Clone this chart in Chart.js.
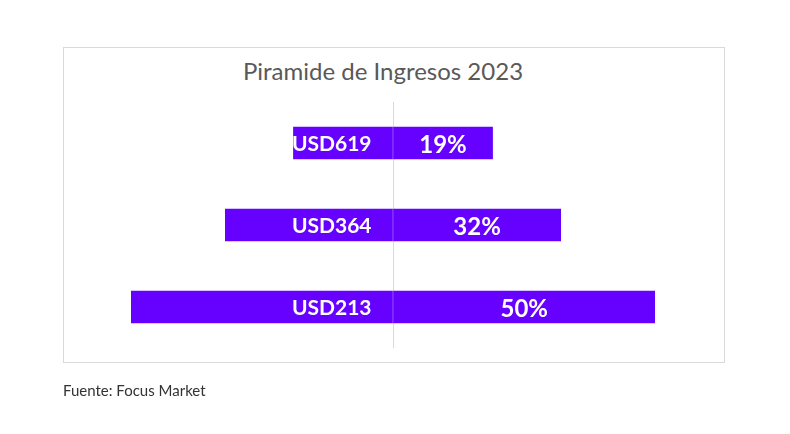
<!DOCTYPE html>
<html>
<head>
<meta charset="utf-8">
<script src="https://cdn.jsdelivr.net/npm/chart.js@4/dist/chart.umd.min.js"></script>
<style>
  html, body { margin: 0; padding: 0; background: #fff; }
  #wrap { position: relative; width: 790px; height: 434px; }
  #frame { position: absolute; left: 63px; top: 47px; width: 660px; height: 314px; border: 1px solid #d9d9d9; }
  #title { position: absolute; left: 0; width: 766px; top: 56px; text-align: center; font-family: Lato, sans-serif; font-size: 24px; color: #595959; }
  #source { position: absolute; left: 63px; top: 381px; font-family: Lato, sans-serif; font-size: 15px; color: #333; }
  canvas { position: absolute; left: 0; top: 0; }
</style>
</head>
<body>
<div id="wrap">
  <div id="frame"></div>
  <div id="title">Piramide de Ingresos 2023</div>
  <canvas id="chart" width="790" height="434"></canvas>
  <div id="source">Fuente: Focus Market</div>
</div>
<script>
// income brackets (top to bottom) and share of population
const categories = ['USD619', 'USD364', 'USD213'];
const shares = [19, 32, 50];
const shareLabels = ['19%', '32%', '50%'];

const barColor = '#6600ff';

// left half mirrors the right half
const leftValues = shares.map(v => -v);

const barLabels = {
    id: 'barLabels',
    afterDatasetsDraw(chart) {
        const ctx = chart.ctx;
        ctx.save();
        ctx.fillStyle = '#fff';
        ctx.textBaseline = 'middle';
        chart.getDatasetMeta(0).data.forEach((bar, i) => {
            ctx.font = 'bold 21px Lato, sans-serif';
            ctx.textAlign = 'right';
            ctx.fillText(categories[i], bar.base - 21, bar.y + 1);
        });
        chart.getDatasetMeta(1).data.forEach((bar, i) => {
            ctx.font = 'bold 24px Lato, sans-serif';
            ctx.textAlign = 'center';
            ctx.fillText(shareLabels[i], (bar.x + bar.base) / 2, bar.y + 2);
        });
        ctx.restore();
    }
};

new Chart(document.getElementById('chart'), {
    type: 'bar',
    data: {
        labels: categories,
        datasets: [
            { data: leftValues, backgroundColor: barColor, barThickness: 32 },
            { data: shares, backgroundColor: barColor, barThickness: 32 }
        ]
    },
    options: {
        indexAxis: 'y',
        responsive: false,
        animation: false,
        layout: { padding: { left: 131, right: 135, top: 102, bottom: 86 } },
        plugins: { legend: { display: false }, tooltip: { enabled: false }, title: { display: false } },
        scales: {
            x: {
                stacked: true,
                min: -50,
                max: 50,
                z: 1,
                ticks: { display: false },
                border: { display: false },
                grid: {
                    drawTicks: false,
                    color: c => c.tick && c.tick.value === 0 ? '#d9d9d9' : 'transparent'
                }
            },
            y: {
                stacked: true,
                display: false
            }
        }
    },
    plugins: [barLabels]
});
</script>
</body>
</html>
